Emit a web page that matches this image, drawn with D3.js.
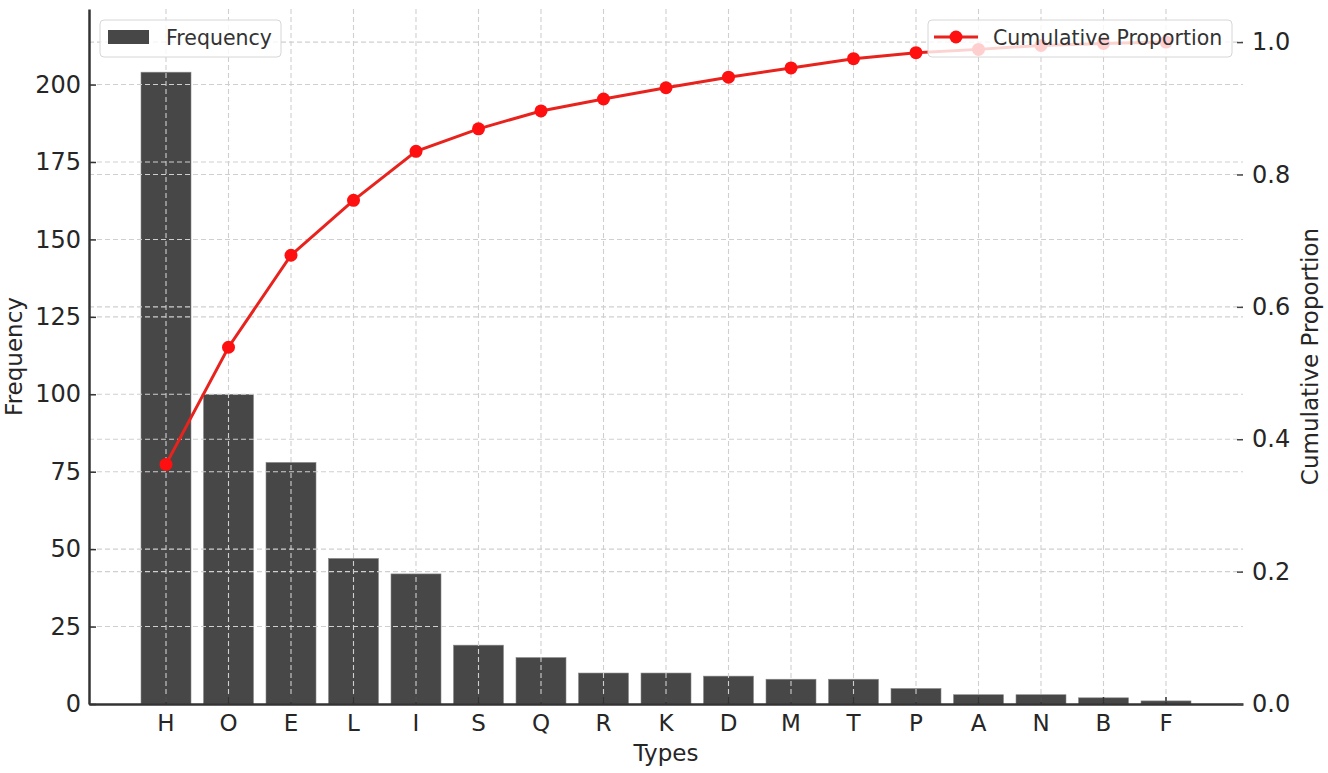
<!DOCTYPE html>
<html>
<head>
<meta charset="utf-8">
<script src="https://cdn.jsdelivr.net/npm/d3@7"></script>
<style>
  body { margin: 0; background: #fff; }
  svg { display: block; font-family: "DejaVu Sans", sans-serif; }
</style>
</head>
<body>
<svg width="1328" height="773"></svg>
<script>
const types = ['H', 'O', 'E', 'L', 'I', 'S', 'Q', 'R', 'K', 'D', 'M', 'T', 'P', 'A', 'N', 'B', 'F'];
const frequency = [204, 100, 78, 47, 42, 19, 15, 10, 10, 9, 8, 8, 5, 3, 3, 2, 1];
const cumulative = [0.362, 0.539, 0.678, 0.761, 0.835, 0.869, 0.896, 0.914, 0.931, 0.947, 0.961, 0.975, 0.984, 0.989, 0.995, 0.998, 1.0];
const freqTicks = [0, 25, 50, 75, 100, 125, 150, 175, 200];
const propTicks = [0, 0.2, 0.4, 0.6, 0.8, 1.0];

const plotLeft = 89, plotRight = 1243, plotTop = 9, plotBottom = 704;
const svg = d3.select('svg');

const x = d3.scaleBand().domain(types).range([plotLeft, plotRight])
  .paddingInner(0.2).paddingOuter(0.832);
const yFreq = d3.scaleLinear().domain([0, 224.4]).range([plotBottom, plotTop]);
const yProp = d3.scaleLinear().domain([0, 1.05]).range([plotBottom, plotTop]);

// bars first, grid is drawn over them
svg.append('g')
  .selectAll('rect')
  .data(types)
  .enter()
  .append('rect')
  .attr('x', d => x(d))
  .attr('width', x.bandwidth())
  .attr('y', (d, i) => yFreq(frequency[i]))
  .attr('height', (d, i) => plotBottom - yFreq(frequency[i]))
  .attr('fill', '#474747')
  .attr('stroke', '#8a8a8a')
  .attr('stroke-width', 0.6);

// grid lines
const grid = svg.append('g')
  .attr('stroke', '#cfcfcf')
  .attr('stroke-width', 1.1)
  .attr('stroke-dasharray', '5,3');
grid.selectAll('.vx').data(types).enter().append('line')
  .attr('x1', d => x(d) + x.bandwidth() / 2).attr('x2', d => x(d) + x.bandwidth() / 2)
  .attr('y1', plotTop).attr('y2', plotBottom);
grid.selectAll('.hf').data(freqTicks.slice(1)).enter().append('line')
  .attr('x1', plotLeft).attr('x2', plotRight)
  .attr('y1', d => yFreq(d)).attr('y2', d => yFreq(d));
grid.selectAll('.hp').data(propTicks.slice(1)).enter().append('line')
  .attr('x1', plotLeft).attr('x2', plotRight)
  .attr('y1', d => yProp(d)).attr('y2', d => yProp(d));

// axes, ticks pointing inward
const tickFont = size => g => g.selectAll('text')
  .attr('font-size', size).attr('fill', '#262626').attr('font-family', '"DejaVu Sans", sans-serif');

svg.append('g')
  .attr('transform', `translate(0,${plotBottom})`)
  .call(d3.axisBottom(x).tickSize(-7).tickPadding(11).tickSizeOuter(0))
  .call(g => g.select('.domain').attr('stroke', '#333').attr('stroke-width', 2.5))
  .call(g => g.selectAll('.tick line').attr('stroke', '#333').attr('stroke-width', 1.5))
  .call(tickFont(23));

svg.append('g')
  .attr('transform', `translate(${plotLeft},0)`)
  .call(d3.axisLeft(yFreq).tickValues(freqTicks).tickSize(-7).tickPadding(8).tickSizeOuter(0))
  .call(g => g.select('.domain').attr('stroke', '#333').attr('stroke-width', 2.5))
  .call(g => g.selectAll('.tick line').attr('stroke', '#333').attr('stroke-width', 1.5))
  .call(tickFont(24));

svg.append('g')
  .attr('transform', `translate(${plotRight},0)`)
  .call(d3.axisRight(yProp).tickValues(propTicks).tickFormat(d3.format('.1f')).tickSize(-6).tickPadding(9).tickSizeOuter(0))
  .call(g => g.select('.domain').remove())
  .call(g => g.selectAll('.tick line').attr('stroke', '#444').attr('stroke-width', 1.5))
  .call(tickFont(24));

// axis titles
svg.append('text')
  .attr('x', (plotLeft + plotRight) / 2).attr('y', 761)
  .attr('text-anchor', 'middle').attr('font-size', 23).attr('fill', '#262626')
  .text('Types');
svg.append('text')
  .attr('transform', `translate(22,${(plotTop + plotBottom) / 2}) rotate(-90)`)
  .attr('text-anchor', 'middle').attr('font-size', 23).attr('fill', '#262626')
  .text('Frequency');
svg.append('text')
  .attr('transform', `translate(1318,${(plotTop + plotBottom) / 2}) rotate(-90)`)
  .attr('text-anchor', 'middle').attr('font-size', 23).attr('fill', '#262626')
  .text('Cumulative Proportion');

// cumulative line
const cx = (d, i) => x(types[i]) + x.bandwidth() / 2;
const line = d3.line().x(cx).y(d => yProp(d));
svg.append('path')
  .datum(cumulative)
  .attr('d', line)
  .attr('fill', 'none')
  .attr('stroke', '#e8231d')
  .attr('stroke-width', 3);
svg.append('g')
  .selectAll('circle')
  .data(cumulative)
  .enter()
  .append('circle')
  .attr('cx', cx)
  .attr('cy', d => yProp(d))
  .attr('r', 6.5)
  .attr('fill', '#ff1010');

// legends
const legF = svg.append('g').attr('transform', 'translate(100,20)');
legF.append('rect').attr('width', 181).attr('height', 37).attr('rx', 4)
  .attr('fill', '#fff').attr('fill-opacity', 0.8).attr('stroke', '#d6d6d6');
legF.append('rect').attr('x', 8).attr('y', 10).attr('width', 41).attr('height', 14)
  .attr('fill', '#474747');
legF.append('text').attr('x', 66).attr('y', 25).attr('font-size', 20.5).attr('fill', '#333')
  .text('Frequency');

const legC = svg.append('g').attr('transform', 'translate(928,20)');
legC.append('rect').attr('width', 304).attr('height', 37).attr('rx', 4)
  .attr('fill', '#fff').attr('fill-opacity', 0.8).attr('stroke', '#d6d6d6');
legC.append('line').attr('x1', 6).attr('x2', 50).attr('y1', 17).attr('y2', 17)
  .attr('stroke', '#e8231d').attr('stroke-width', 3);
legC.append('circle').attr('cx', 28).attr('cy', 17).attr('r', 6.5).attr('fill', '#ff1010');
legC.append('text').attr('x', 65).attr('y', 25).attr('font-size', 20.5).attr('fill', '#333')
  .text('Cumulative Proportion');
</script>
</body>
</html>
